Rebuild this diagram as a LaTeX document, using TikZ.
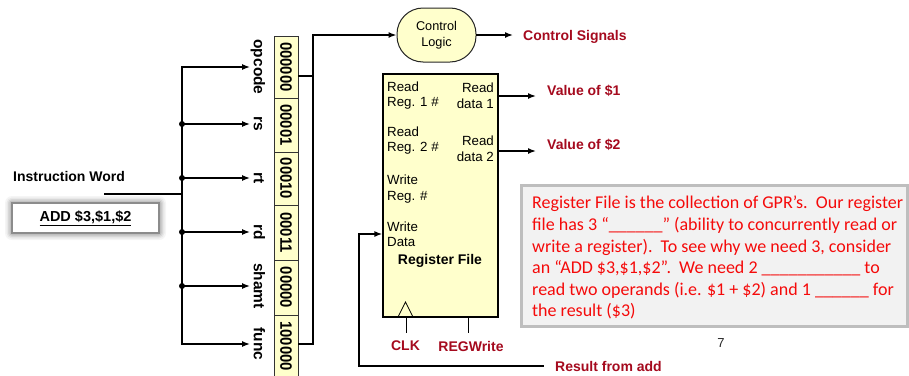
\documentclass[tikz,border=0pt]{standalone}
\usepackage{fontspec}
\setmainfont{Liberation Sans}
\newfontfamily\notefont{Carlito}
\usetikzlibrary{arrows.meta}

\definecolor{darkred}{RGB}{165,10,30}
\definecolor{paleyellow}{RGB}{255,255,204}
\definecolor{boxgray}{RGB}{190,190,190}
\definecolor{boxfill}{RGB}{242,242,242}
\definecolor{notered}{RGB}{245,10,10}

% rotated field contents of the instruction word
\newcommand\fldtxt[1]{\rotatebox{-90}{\scalebox{0.9}[1]{#1}}}
\newcommand\fldname[1]{\rotatebox{-90}{\vphantom{dp}#1}}

\begin{document}
\begin{tikzpicture}[x=1pt,y=-1pt,
  wire/.style={line width=1.5pt,line cap=rect},
  arr/.style={wire,-{Latex[length=8pt,width=6pt]}},
  junction/.style={circle,fill=black,inner sep=0pt,minimum size=6pt},
  fieldbox/.style={draw=black!80,fill=paleyellow,line width=0.8pt,minimum width=24pt,
    inner sep=0pt,font=\bfseries\fontsize{16.5}{16.5}\selectfont},
  fieldname/.style={inner sep=0.5pt,font=\bfseries\fontsize{15.5}{15.5}\selectfont},
  rflabel/.style={inner sep=0pt,font=\fontsize{13.3}{15.5}\selectfont},
  outlabel/.style={inner sep=0pt,text=darkred,font=\bfseries\fontsize{14}{14}\selectfont},
]
\clip (0,0) rectangle (909,375);
\fill[white] (0,0) rectangle (909,375);

% ---- instruction word ----
\node[inner sep=0pt,anchor=west,font=\bfseries\fontsize{14}{14}\selectfont] (iw) at (13,176) {Instruction Word};
\foreach \d/\o in {7/0.04,5.5/0.05,4/0.07,2.5/0.09,1/0.12}
  \fill[black,opacity=\o,rounded corners=\d pt] ({12-\d},{203-\d}) rectangle ({159+\d},{233+\d});
\node[draw=black!45,line width=2.5pt,fill=white,minimum width=147pt,minimum height=30pt,
  font=\bfseries\fontsize{14.5}{14.5}\selectfont] (add) at (85.5,218) {\underline{ADD \$3,\$1,\$2}};

% ---- instruction fields ----
\node[fieldbox,minimum height=62pt] (f0) at (286,67)    {\fldtxt{000000}};
\node[fieldbox,minimum height=54pt] (f1) at (286,125)   {\fldtxt{00001}};
\node[fieldbox,minimum height=53pt] (f2) at (286,178.5) {\fldtxt{00010}};
\node[fieldbox,minimum height=55pt] (f3) at (286,232.5) {\fldtxt{00011}};
\node[fieldbox,minimum height=55pt] (f4) at (286,287.5) {\fldtxt{00000}};
\node[fieldbox,minimum height=62pt] (f5) at (286,346)   {\fldtxt{100000}};

\node[fieldname] (lop) at (258,67)  {\fldname{opcode}};
\node[fieldname] (lrs) at (258,124) {\fldname{rs}};
\node[fieldname] (lrt) at (258,178) {\fldname{rt}};
\node[fieldname] (lrd) at (258,232) {\fldname{rd}};
\node[fieldname] (lsh) at (258,286) {\fldname{shamt}};
\node[fieldname] (lfn) at (258,344) {\fldname{func}};

% fan-out bus
\coordinate (bus) at (182,0);
\coordinate (iwEnd) at (105,194);
\draw[wire] (iwEnd) -- (iwEnd -| bus);
\draw[wire] (lop.west -| bus) -- (lfn.west -| bus);
\foreach \n in {lop,lrs,lrt,lrd,lsh,lfn}
  \draw[arr] (\n.west -| bus) -- (\n.west);
\node[junction] (j1) at (lrs.west -| bus) {};
\node[junction] (j2) at (lrt.west -| bus) {};
\node[junction] (j3) at (lrd.west -| bus) {};
\node[junction] (j4) at (lsh.west -| bus) {};

% ---- control logic ----
\node[draw=black!85,fill=paleyellow,line width=1pt,rounded corners=26pt,minimum width=79pt,
  minimum height=54pt,align=center,font=\fontsize{12.7}{15.5}\selectfont] (cl) at (436.5,35) {Control\\Logic};
\node[outlabel,anchor=west] (cs) at (523,37) {Control Signals};

\coordinate (busR) at (313,0);
\draw[wire] ([yshift=-9pt]f0.east) -- ([yshift=-9pt]f0.east -| busR);
\draw[arr] ([yshift=2pt]f5.east) -| (cl.west -| busR) -- (cl.west);
\draw[arr,shorten >=10pt] (cl.east) -- (cl.east -| cs.west);

% ---- register file ----
\node[draw=black,fill=paleyellow,line width=1.2pt,minimum width=115pt,minimum height=243pt,inner sep=0pt]
  (rf) at (440.5,195.5) {};
\node[rflabel,anchor=west,align=left]  (rr1) at (387,95.5)  {Read\\Reg. 1 \#};
\node[rflabel,anchor=east,align=right] (rd1) at (494,95.5)  {Read\\data 1};
\node[rflabel,anchor=west,align=left]  (rr2) at (387,140.5) {Read\\Reg. 2 \#};
\node[rflabel,anchor=east,align=right] (rd2) at (494,148.5) {Read\\data 2};
\node[rflabel,anchor=west,align=left]  (wr)  at (387,189)   {Write\\Reg. \#};
\node[rflabel,anchor=west,align=left]  (wd)  at (387,234)   {Write\\Data};
\node[inner sep=0pt,font=\bfseries\fontsize{14}{14}\selectfont] (rft) at (440,261) {Register File};

% clock input marker
\draw[line width=0.8pt] (398,317) -- (405.5,302) -- (413,317);

\node[outlabel] (clk) at (405.5,346) {CLK};
\node[outlabel] (rw)  at (471,346)   {REGWrite};
\coordinate (clkTail) at (406,333);
\coordinate (rwTail)  at (468,333);
\draw[line width=1pt] (clkTail |- rf.south) -- (clkTail);
\draw[line width=1pt] (rwTail |- rf.south) -- (rwTail);

% outputs
\node[outlabel,anchor=west] (v1) at (547,91)  {Value of \$1};
\node[outlabel,anchor=west] (v2) at (547,145) {Value of \$2};
\draw[arr,shorten >=11pt] (rf.east |- 0,96)  -- (v1.west |- 0,96);
\draw[arr,shorten >=11pt] (rf.east |- 0,151) -- (v2.west |- 0,151);

% write-back path
\node[outlabel,anchor=west] (res) at (555,366) {Result from add};
\coordinate (wbx) at (359,0);
\draw[arr] ([xshift=-12pt]res.west) -| (wbx |- wd.west) -- (rf.west |- wd.west);

% ---- note ----
\node[draw=boxgray,line width=3pt,fill=boxfill,minimum width=386pt,minimum height=141pt] (frame) at (714,255.5) {};
\node[anchor=north west,inner sep=0pt,align=left,text=notered,
  font=\notefont\fontsize{18}{21.6}\selectfont] (note) at (532,196)
  {Register File is the collection of GPR’s.\ \ Our register\\
   file has 3 “\_\_\_\_\_\_” (ability to concurrently read or\\
   write a register).\ \ To see why we need 3, consider\\
   an “ADD \$3,\$1,\$2”.\ \ We need 2 \_\_\_\_\_\_\_\_\_\_\_ to\\
   read two operands (i.e. \$1 + \$2) and 1 \_\_\_\_\_\_ for\\
   the result (\$3)};

\node[inner sep=0pt,text=black!85,font=\fontsize{13}{13}\selectfont] (pg) at (721,343) {7};
\end{tikzpicture}
\end{document}
